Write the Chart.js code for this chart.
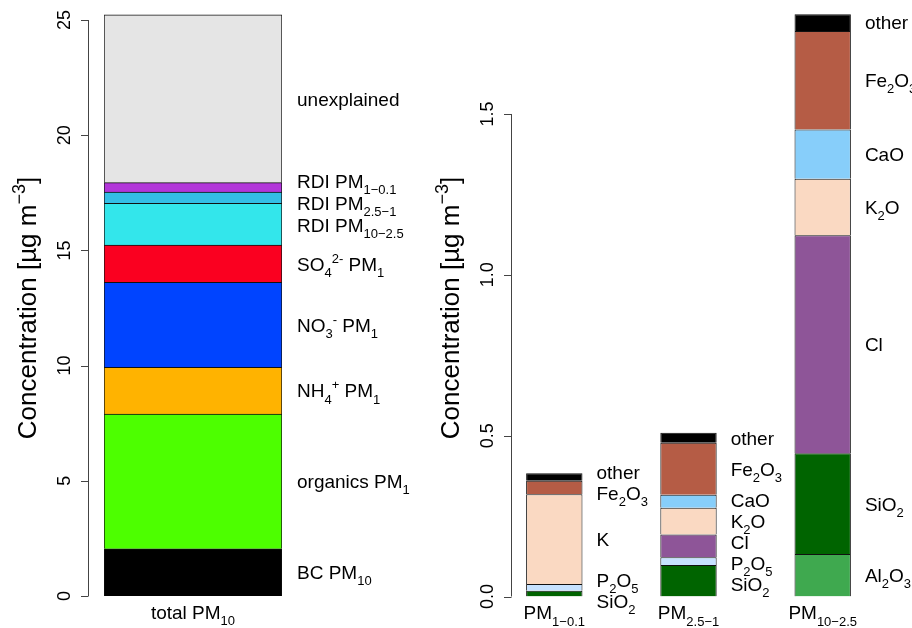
<!DOCTYPE html>
<html>
<head>
<meta charset="utf-8">
<script src="https://cdn.jsdelivr.net/npm/chart.js@4/dist/chart.umd.min.js"></script>
<style>
  html, body { margin: 0; padding: 0; background: #fff; }
  #wrap { position: relative; width: 912px; height: 628px; }
  canvas { position: absolute; left: 0; top: 0; }
</style>
</head>
<body>
<div id="wrap">
  <canvas id="total" width="912" height="628"></canvas>
  <canvas id="elements" width="912" height="628"></canvas>
</div>
<script>
// ---- total PM10 composition (µg m^-3), stacked bottom to top ----
const totalCategories = ['total PM_{10}'];
const totalComponents = [
  'BC PM_{10}', 'organics PM_{1}', 'NH_{4}^{+} PM_{1}', 'NO_{3}^{-} PM_{1}',
  'SO_{4}^{2-} PM_{1}', 'RDI PM_{10\u22122.5}', 'RDI PM_{2.5\u22121}',
  'RDI PM_{1\u22120.1}', 'unexplained'
];
const totalValues = [2.05, 5.85, 2.03, 3.68, 1.62, 1.81, 0.49, 0.41, 7.29];
const totalColors = ['#000000', '#4dff00', '#ffb300', '#0044ff', '#fa0020',
                     '#33e6eb', '#33bee6', '#b236d9', '#e5e5e5'];
const totalTicks = [0, 5, 10, 15, 20, 25];
const totalTickLabels = ['0', '5', '10', '15', '20', '25'];

// ---- RDI element oxides per size range (µg m^-3) ----
const sizeCategories = ['PM_{1\u22120.1}', 'PM_{2.5\u22121}', 'PM_{10\u22122.5}'];
const al2o3 = [null, null, 0.132];
const sio2  = [0.018, 0.098, 0.313];
const p2o5  = [0.021, 0.024, null];
const cl    = [null, 0.071, 0.678];
const kEl   = [0.279, null, null];
const k2o   = [null, 0.083, 0.176];
const cao   = [null, 0.040, 0.153];
const fe2o3 = [0.042, 0.162, 0.306];
const other = [0.023, 0.031, 0.052];
const sizeTicks = [0, 0.5, 1.0, 1.5];
const sizeTickLabels = ['0.0', '0.5', '1.0', '1.5'];

const elementSeries = [
  { name: 'Al_{2}O_{3}', values: al2o3, color: '#3fa94f' },
  { name: 'SiO_{2}',     values: sio2,  color: '#006400' },
  { name: 'P_{2}O_{5}',  values: p2o5,  color: '#c6e2ff' },
  { name: 'Cl',          values: cl,    color: '#8e5598' },
  { name: 'K',           values: kEl,   color: '#fad9c2' },
  { name: 'K_{2}O',      values: k2o,   color: '#fad9c2' },
  { name: 'CaO',         values: cao,   color: '#87cefa' },
  { name: 'Fe_{2}O_{3}', values: fe2o3, color: '#b55c45' },
  { name: 'other',       values: other, color: '#000000' }
];

const FONT = '"Liberation Sans", Arial, Helvetica, sans-serif';
const yTitle = 'Concentration [\u00b5g m^{\u22123}]';
const LABEL_SIZE = 19;
const TICK_SIZE = 18;
const TITLE_SIZE = 26;
const TITLE_MID_Y = 308;

// ---- small plotmath-like text renderer: _{sub} and ^{sup} ----
function parseRich(s) {
  const parts = [];
  const re = /([_^])\{([^}]*)\}/g;
  let last = 0, m;
  while ((m = re.exec(s)) !== null) {
    if (m.index > last) parts.push({ t: s.slice(last, m.index), mode: 'n' });
    parts.push({ t: m[2], mode: m[1] === '_' ? 'sub' : 'sup' });
    last = re.lastIndex;
  }
  if (last < s.length) parts.push({ t: s.slice(last), mode: 'n' });
  return parts;
}
function partFont(mode, size) {
  return (mode === 'n' ? size : Math.round(size * 0.7)) + 'px ' + FONT;
}
function measureRich(ctx, s, size) {
  let w = 0;
  for (const p of parseRich(s)) { ctx.font = partFont(p.mode, size); w += ctx.measureText(p.t).width; }
  return w;
}
// draws with the capital-letter middle at y
function drawRich(ctx, s, x, y, size, align) {
  const parts = parseRich(s);
  let cx = x;
  if (align === 'center') cx = x - measureRich(ctx, s, size) / 2;
  const base = y + size * 0.36;
  ctx.textBaseline = 'alphabetic';
  ctx.textAlign = 'left';
  ctx.fillStyle = '#000';
  for (const p of parts) {
    ctx.font = partFont(p.mode, size);
    let by = base;
    if (p.mode === 'sub') by = base + size * 0.33;
    if (p.mode === 'sup') by = base - size * 0.42;
    ctx.fillText(p.t, cx, by);
    cx += ctx.measureText(p.t).width;
  }
}

// spread label positions so neighbours keep a minimum gap
function spread(items, gap) {
  items.sort((a, b) => a.y - b.y);
  for (let pass = 0; pass < 40; pass++) {
    let moved = false;
    for (let i = 1; i < items.length; i++) {
      const d = items[i].y - items[i - 1].y;
      if (d < gap - 0.01) {
        const push = (gap - d) / 2;
        items[i - 1].y -= push; items[i].y += push; moved = true;
      }
    }
    if (!moved) break;
  }
  return items;
}

// R-style axis: line spanning the tick range, outward ticks, labels parallel to axis
function drawAxis(chart, axisX, ticks, tickLabels, titleX) {
  const ctx = chart.ctx, y = chart.scales.y;
  const y0 = y.getPixelForValue(ticks[0]);
  const y1 = y.getPixelForValue(ticks[ticks.length - 1]);
  ctx.save();
  ctx.strokeStyle = '#444';
  ctx.lineWidth = 1;
  ctx.beginPath();
  ctx.moveTo(axisX + 0.5, y0); ctx.lineTo(axisX + 0.5, y1);
  ticks.forEach(t => {
    const py = Math.round(y.getPixelForValue(t)) + 0.5;
    ctx.moveTo(axisX + 0.5, py); ctx.lineTo(axisX - 7, py);
  });
  ctx.stroke();
  ticks.forEach((t, i) => {
    const py = y.getPixelForValue(t);
    ctx.save();
    ctx.translate(axisX - 24, py);
    ctx.rotate(-Math.PI / 2);
    drawRich(ctx, tickLabels[i], 0, 0, TICK_SIZE, 'center');
    ctx.restore();
  });
  ctx.save();
  ctx.translate(titleX, TITLE_MID_Y);
  ctx.rotate(-Math.PI / 2);
  drawRich(ctx, yTitle, 0, 0, TITLE_SIZE, 'center');
  ctx.restore();
  ctx.restore();
}

// labels to the right of every stacked segment, plus category labels beneath
function drawSegmentLabels(chart, names, gap, dx) {
  const ctx = chart.ctx;
  const nCat = chart.data.labels.length;
  for (let c = 0; c < nCat; c++) {
    const items = [];
    let right = null;
    chart.data.datasets.forEach((ds, di) => {
      if (ds.data[c] == null) return;
      const el = chart.getDatasetMeta(di).data[c];
      right = el.x + el.width / 2;
      items.push({ y: (el.y + el.base) / 2, text: names[di] });
    });
    spread(items, gap);
    items.forEach(it => drawRich(ctx, it.text, right + dx, it.y, LABEL_SIZE, 'left'));
    const cx = chart.scales.x.getPixelForValue(c);
    drawRich(ctx, chart.data.labels[c], cx, chart.chartArea.bottom + 16, LABEL_SIZE, 'center');
  }
}

Chart.defaults.animation = false;
Chart.defaults.font.family = FONT;

const common = {
  responsive: false,
  devicePixelRatio: 1,
  plugins: { legend: { display: false }, tooltip: { enabled: false } },
  events: []
};

// left panel: total PM10
new Chart(document.getElementById('total'), {
  type: 'bar',
  data: {
    labels: totalCategories,
    datasets: totalComponents.map((n, i) => ({
      label: n,
      data: [totalValues[i]],
      backgroundColor: totalColors[i],
      borderColor: '#111',
      borderWidth: 1,
      borderSkipped: 'start',
      barPercentage: 1,
      categoryPercentage: 1
    }))
  },
  options: Object.assign({}, common, {
    layout: { padding: { left: 104, right: 630, top: 8.5, bottom: 32 } },
    scales: {
      x: { stacked: true, display: false },
      y: { stacked: true, display: false, min: 0, max: 25.5 }
    }
  }),
  plugins: [{
    id: 'totalDecor',
    afterDraw(chart) {
      drawAxis(chart, chart.chartArea.left - 16, totalTicks, totalTickLabels, 27);
      drawSegmentLabels(chart, totalComponents, 22, 15);
    }
  }]
});

// right panel: element oxides by size range
new Chart(document.getElementById('elements'), {
  type: 'bar',
  data: {
    labels: sizeCategories,
    datasets: elementSeries.map(s => ({
      label: s.name,
      data: s.values,
      backgroundColor: s.color,
      borderColor: '#111',
      borderWidth: 1,
      borderSkipped: 'start',
      barPercentage: 0.42,
      categoryPercentage: 1
    }))
  },
  options: Object.assign({}, common, {
    layout: { padding: { left: 487.2, right: 22.2, top: 4.6, bottom: 31.5 } },
    scales: {
      x: { stacked: true, display: false },
      y: { stacked: true, display: false, min: 0, max: 1.84 }
    }
  }),
  plugins: [{
    id: 'elementDecor',
    afterDraw(chart) {
      const first = chart.getDatasetMeta(1).data[0];
      const axisX = Math.round(first.x - first.width / 2 - 15);
      drawAxis(chart, axisX, sizeTicks, sizeTickLabels, 450);
      drawSegmentLabels(chart, elementSeries.map(s => s.name), 21, 14);
    }
  }]
});
</script>
</body>
</html>
